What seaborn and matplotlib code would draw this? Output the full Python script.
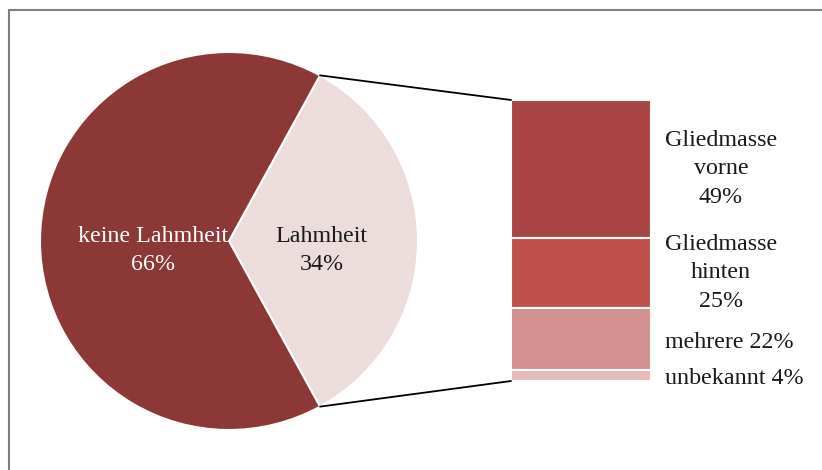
import numpy as np
import matplotlib
matplotlib.use("Agg")
import matplotlib.pyplot as plt
from matplotlib.patches import Rectangle, ConnectionPatch
import seaborn as sns

# Overall share of lameness
pie_labels = ["Lahmheit", "keine Lahmheit"]
pie_values = [34, 66]
pie_colors = ["#EDDCDC", "#8C3836"]
pie_text_colors = ["#1a1a1a", "white"]

# Breakdown of the lameness share by affected limbs (top to bottom)
bar_labels = ["Gliedmasse\nvorne\n49%", "Gliedmasse\nhinten\n25%", "mehrere 22%", "unbekannt 4%"]
bar_values = [49, 25, 22, 4]
bar_colors = ["#A94545", "#C0504E", "#D39192", "#E6BBBC"]

sns.set_theme(style="white")
plt.rcParams["font.family"] = ["Liberation Serif", "DejaVu Serif"]
FS = 17.3
LS = 1.45

W, H = 822, 470
fig = plt.figure(figsize=(W / 100, H / 100), dpi=100)
fig.patch.set_facecolor("white")

# Outer frame
fig.add_artist(Rectangle((9 / W, -0.05), 1.2, 1 - 10 / H + 0.05,
                         transform=fig.transFigure, fill=False,
                         edgecolor="#808080", linewidth=1.5))

# ---- Pie ----
cx, cy, r = 229, 241, 189
ax_pie = fig.add_axes([(cx - r) / W, (H - cy - r) / H, 2 * r / W, 2 * r / H])
start = -pie_values[0] / 100 * 360 / 2
wedges, _ = ax_pie.pie(pie_values, colors=pie_colors, startangle=start,
                       counterclock=True, radius=1,
                       wedgeprops=dict(edgecolor="white", linewidth=1.5, clip_on=False))
ax_pie.set_xlim(-1, 1)
ax_pie.set_ylim(-1, 1)
ax_pie.set_aspect("equal")
ax_pie.axis("off")

label_dist = [0.49, 0.40]
for w, lab, val, col, d in zip(wedges, pie_labels, pie_values, pie_text_colors, label_dist):
    mid = np.deg2rad((w.theta1 + w.theta2) / 2)
    ax_pie.text(d * np.cos(mid), d * np.sin(mid) - 0.05, f"{lab}\n{val}%",
                ha="center", va="center", color=col, fontsize=FS, linespacing=LS)

# ---- Stacked bar ----
bx0, bx1, by0, by1 = 511, 651, 100, 381
ax_bar = fig.add_axes([bx0 / W, (H - by1) / H, (bx1 - bx0) / W, (by1 - by0) / H])
bottoms = np.cumsum([0] + bar_values[::-1])[:-1][::-1]
for lab, val, b, col in zip(bar_labels, bar_values, bottoms, bar_colors):
    ax_bar.bar(0, val, bottom=b, width=1.0, color=col, edgecolor="white", linewidth=1.5)
    yc = b + val / 2
    if "\n" in lab:
        ax_bar.text(1.0, yc, lab, ha="center", va="center", fontsize=FS,
                    color="#1a1a1a", linespacing=LS, clip_on=False)
    else:
        ax_bar.text(0.6, yc - 1.2, lab, ha="left", va="center", fontsize=FS,
                    color="#1a1a1a", clip_on=False)
ax_bar.set_xlim(-0.5, 0.5)
ax_bar.set_ylim(0, sum(bar_values))
ax_bar.axis("off")

# ---- Connector lines from the lameness wedge to the bar ----
t1, t2 = np.deg2rad(wedges[0].theta1), np.deg2rad(wedges[0].theta2)
for theta, ybar in [(t2, sum(bar_values)), (t1, 0)]:
    con = ConnectionPatch(xyA=(np.cos(theta), np.sin(theta)), coordsA=ax_pie.transData,
                          xyB=(-0.5, ybar), coordsB=ax_bar.transData,
                          color="black", linewidth=1.3)
    fig.add_artist(con)

fig.savefig("out.png", dpi=100, facecolor="white")
